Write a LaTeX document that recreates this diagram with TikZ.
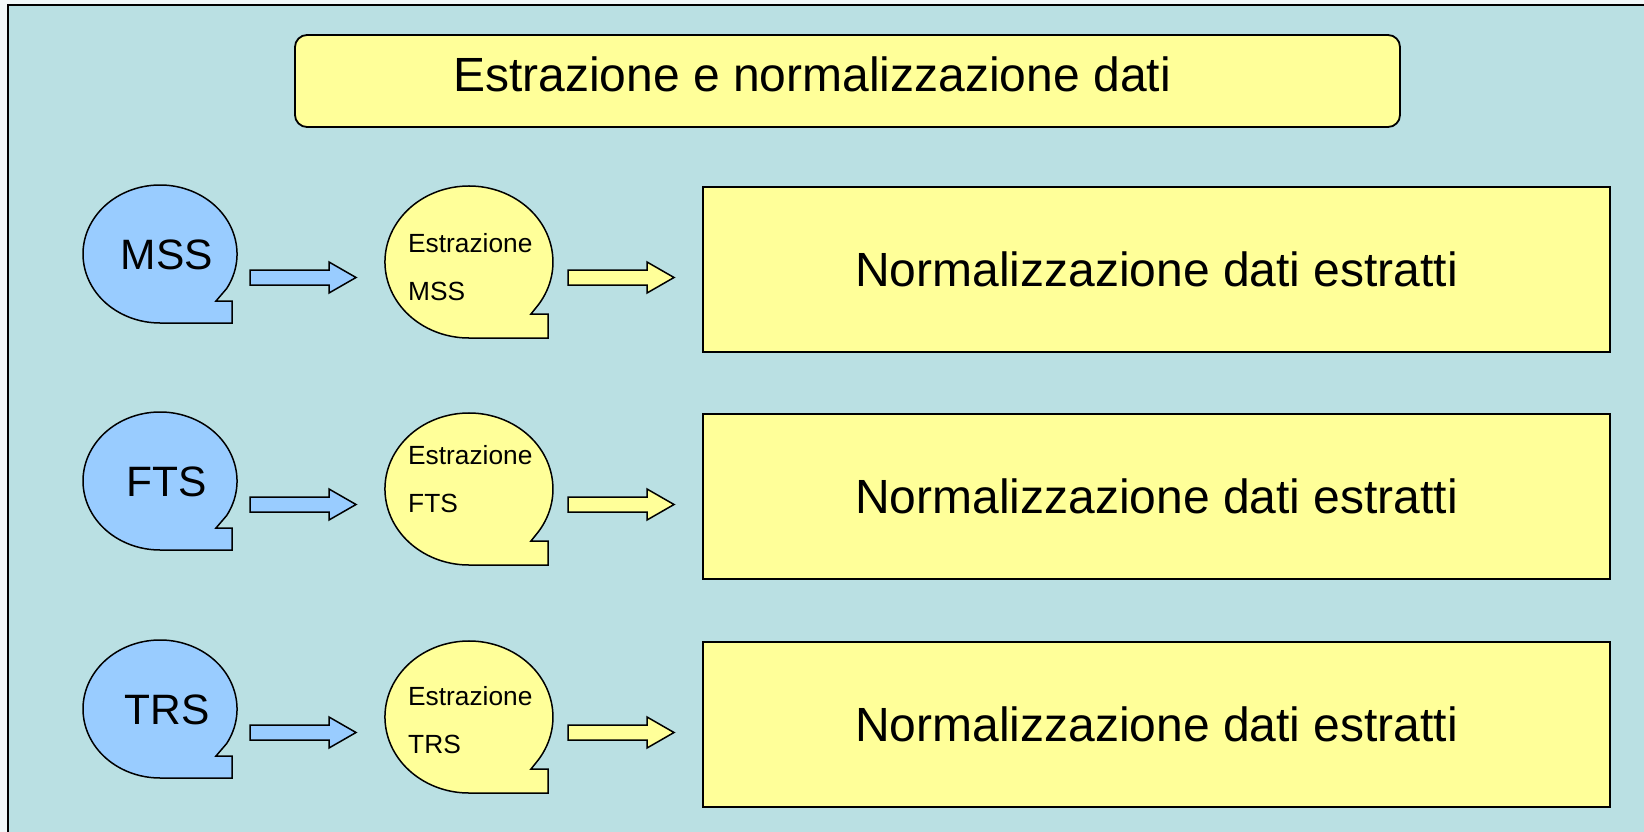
\documentclass[tikz,border=0pt]{standalone}
\usepackage{fontspec}
\setmainfont{Liberation Sans}
\definecolor{bg}{HTML}{BAE0E3}
\definecolor{yel}{HTML}{FFFF99}
\definecolor{blu}{HTML}{99CCFF}
\definecolor{margin}{HTML}{F2F8F9}
\begin{document}
\begin{tikzpicture}[x=1pt,y=-1pt,line join=miter,
  outl/.style={draw=black,line width=1.5pt},
  boxout/.style={draw=black,line width=2.2pt},
  bigtxt/.style={font=\fontsize{48}{56}\selectfont},
  srctxt/.style={font=\fontsize{42.5}{50}\selectfont},
  smalltxt/.style={font=\fontsize{26.3}{30}\selectfont},
  blockarrow/.pic={\path[outl,pic actions] (0,-7.5) -- (79,-7.5) -- (79,-15.5) -- (106,0) -- (79,15.5) -- (79,7.5) -- (0,7.5) -- cycle;}
]
\useasboundingbox (0,0) rectangle (1644,832);
\fill[margin] (0,0) rectangle (1644,832);
\draw[line width=1.5pt,fill=bg] (8,5) rectangle (1670,860);

% title
\node[boxout,line width=1.8pt,fill=yel,rounded corners=12pt,minimum width=1105pt,minimum height=92pt,inner sep=0pt] (title) at (847.5,81) {};
\node[bigtxt,anchor=base west,inner sep=0pt] (titletext) at (453,92) {Estrazione e normalizzazione dati};

\foreach \dy/\ty/\src/\i in {0/0/MSS/1,227/212/FTS/2,455/453/TRS/3}{
  % blue source bubble
  \draw[outl,fill=blu] (160,323+\dy) -- (232,323+\dy) -- (232,301+\dy) -- (216,301+\dy)
     -- (226.7,288.5+\dy) arc[start angle=30,end angle=-270,x radius=77,y radius=69] -- cycle;
  \node[srctxt,anchor=base,inner sep=0pt] (src\i) at (167,269+\dy) {\src};
  % yellow extraction bubble
  \draw[outl,fill=yel] (469,338+\dy) -- (548,338+\dy) -- (548,314+\dy) -- (531,314+\dy)
     -- (538.6,304.5+\dy) arc[start angle=34,end angle=-270,x radius=84,y radius=76] -- cycle;
  \node[smalltxt,anchor=base west,inner sep=0pt] (exa\i) at (408,252+\ty) {Estrazione};
  \node[smalltxt,anchor=base west,inner sep=0pt] (exb\i) at (408,300+\ty) {\src};
  % arrows
  \coordinate (arrA\i) at (250,277.5+\dy);
  \coordinate (arrB\i) at (568,277.5+\dy);
  \pic[fill=blu] at (arrA\i) {blockarrow};
  \pic[fill=yel] at (arrB\i) {blockarrow};
  % normalisation box
  \node[boxout,fill=yel,minimum width=907pt,minimum height=165pt,inner sep=0pt,bigtxt] (norm\i) at (1156.5,269.5+\dy) {Normalizzazione dati estratti};
}
\end{tikzpicture}
\end{document}
